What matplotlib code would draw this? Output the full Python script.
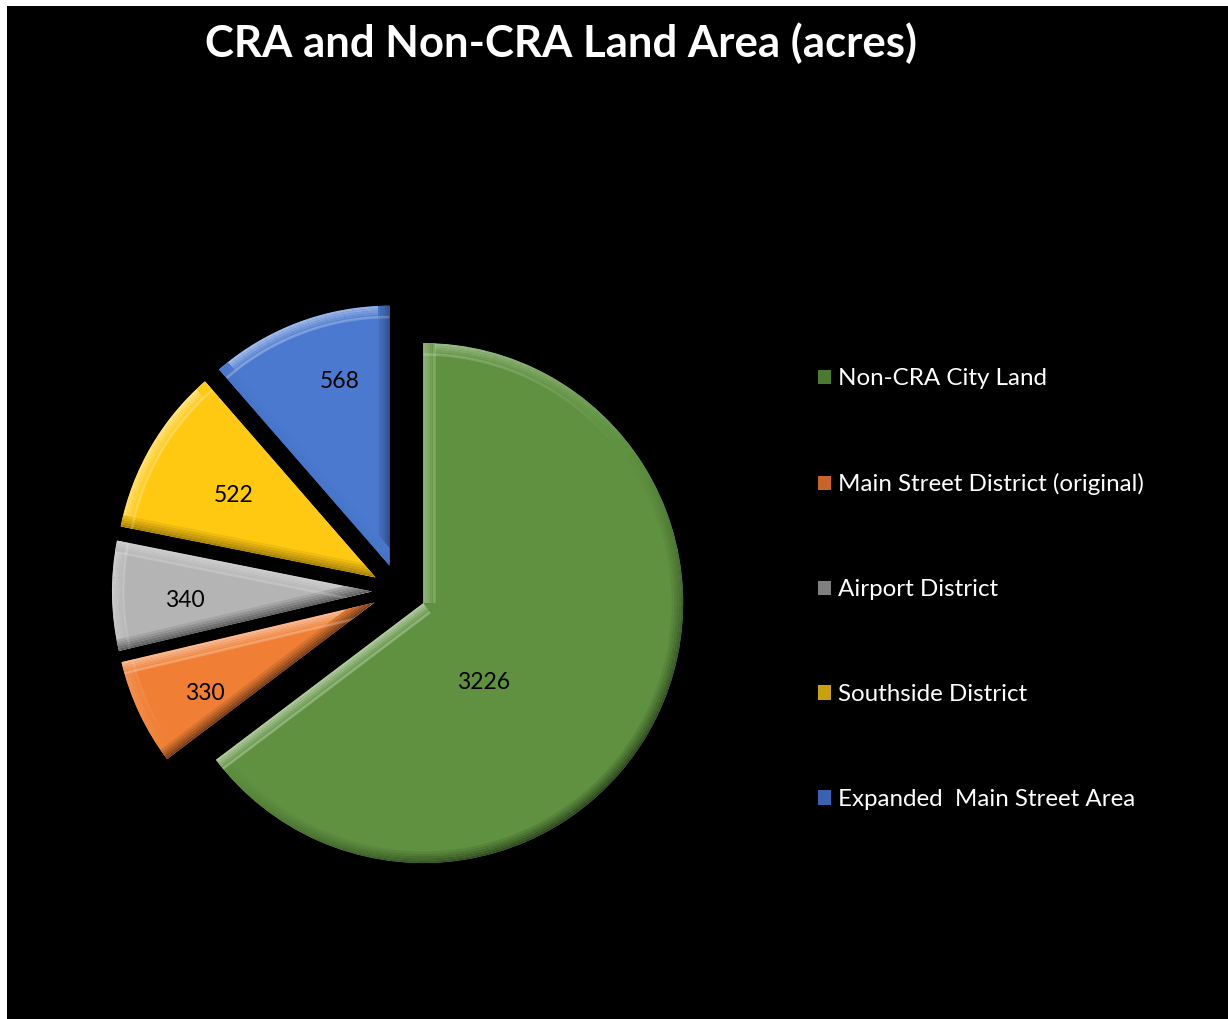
import numpy as np
import matplotlib
matplotlib.use("Agg")
import matplotlib.pyplot as plt
from matplotlib.patches import Rectangle, Wedge, Polygon
from matplotlib.colors import to_rgb

# Land area by district (acres)
categories = ["Non-CRA City Land", "Main Street District (original)", "Airport District",
              "Southside District", "Expanded  Main Street Area"]
acres = [3226, 330, 340, 522, 568]
title = "CRA and Non-CRA Land Area (acres)"

colors = ["#5f9140", "#f07f35", "#b4b4b4", "#ffc811", "#4a79cf"]
legend_colors = ["#4a7a30", "#c8642a", "#7f7f7f", "#c9a010", "#3a62b0"]
explode = [0.104] * 5
# label placement per slice: (fraction of radius, angular shift in degrees)
label_place = [(0.385, -26.5), (0.74, 3.2), (0.72, 1.8), (0.63, 0.0), (0.735, -5.5)]

W, H = 1228, 1019
fig = plt.figure(figsize=(W / 100, H / 100), dpi=100, facecolor="white")
fig.patches.append(Rectangle((7 / W, 0), 1 - 7 / W, 1 - 6 / H, transform=fig.transFigure,
                             facecolor="black", edgecolor="none", zorder=-10))

R_px = 260.0
cx, cy = 399.0, 591.0
lim = 1.3
size = 2 * lim * R_px
ax = fig.add_axes([(cx - size / 2) / W, (H - cy - size / 2) / H, size / W, size / H])
ax.set_zorder(2)

wedges, _ = ax.pie(acres, colors=colors, startangle=90, counterclock=False,
                   explode=explode, radius=1.0, wedgeprops=dict(linewidth=0))
ax.set_xlim(-lim, lim)
ax.set_ylim(-lim, lim)
ax.set_aspect("equal")
ax.axis("off")

light = np.array([-0.6, 0.8])
light = light / np.linalg.norm(light)


def shade(base, normal, strength):
    c = np.array(to_rgb(base))
    k = float(np.dot(normal, light))
    if k >= 0:
        c = c + (1 - c) * k * strength
    else:
        c = c * (1 + k * strength)
    return tuple(np.clip(c, 0, 1))


bw = 0.044  # bevel width in radius units
layers = 5
for w, base in zip(wedges, colors):
    x0, y0 = w.center
    r = w.r
    t1, t2 = w.theta1, w.theta2
    n = max(int((t2 - t1) / 2), 4)
    edges = np.linspace(t1, t2, n + 1)
    # bevel along the outer arc, fading toward the face
    for j in range(layers):
        s = 0.5 * (1 - j / layers)
        width = bw / layers
        rr = r - j * width
        for a, b in zip(edges[:-1], edges[1:]):
            m = np.deg2rad((a + b) / 2)
            seg = Wedge((x0, y0), rr, a, b, width=width * 1.05,
                        facecolor=shade(base, np.array([np.cos(m), np.sin(m)]), s),
                        edgecolor="none", zorder=3)
            ax.add_patch(seg)
            seg.set_clip_path(w)
    # soft highlight at the inner edge of the arc bevel
    for a, b in zip(edges[:-1], edges[1:]):
        m = np.deg2rad((a + b) / 2)
        k = float(np.dot([np.cos(m), np.sin(m)], light))
        if k > 0.1:
            hl = Wedge((x0, y0), r - bw + 0.005, a, b, width=0.01,
                       facecolor=(1, 1, 1, 0.25 * k), edgecolor="none", zorder=4)
            ax.add_patch(hl)
            hl.set_clip_path(w)
    # bevels along the two straight edges
    for ang, side in ((t1, 1), (t2, -1)):
        ar = np.deg2rad(ang)
        d = np.array([np.cos(ar), np.sin(ar)])
        n_in = side * np.array([-np.sin(ar), np.cos(ar)])
        p0 = np.array([x0, y0])
        p1 = p0 + d * r
        for j in range(layers):
            s = 0.5 * (1 - j / layers)
            o1 = j * bw / layers
            o2 = (j + 1.05) * bw / layers
            quad = [p0 + n_in * o1, p1 + n_in * o1, p1 + n_in * o2, p0 + n_in * o2]
            strip = Polygon(quad, closed=True, facecolor=shade(base, -n_in, s),
                            edgecolor="none", zorder=3)
            ax.add_patch(strip)
            strip.set_clip_path(w)
        k = float(np.dot(-n_in, light))
        if k > 0.1:
            hq = [p0 + n_in * (bw - 0.005), p1 + n_in * (bw - 0.005), p1 + n_in * (bw + 0.005),
                  p0 + n_in * (bw + 0.005)]
            hp = Polygon(hq, closed=True, facecolor=(1, 1, 1, 0.25 * k), edgecolor="none", zorder=4)
            ax.add_patch(hp)
            hp.set_clip_path(w)

# data labels
for w, v, (frac, shift) in zip(wedges, acres, label_place):
    x0, y0 = w.center
    mid = np.deg2rad((w.theta1 + w.theta2) / 2 + shift)
    ax.text(x0 + frac * w.r * np.cos(mid), y0 + frac * w.r * np.sin(mid), str(v),
            ha="center", va="center", fontsize=16.5, family="Lato", color="black", zorder=6)

fig.text(561 / W, 1 - 43 / H, title, ha="center", va="center", fontsize=31.5,
         family="Lato", fontweight="bold", color="white")

# legend
handles = [Rectangle((0, 0), 1, 1, facecolor=c, edgecolor="none") for c in legend_colors]
leg = fig.legend(handles, categories, loc="upper left", bbox_to_anchor=(818 / W, 1 - 368.5 / H),
                 frameon=False, labelcolor="white", prop=dict(family="Lato", size=17.4),
                 handlelength=0.54, handleheight=0.54, handletextpad=0.28, labelspacing=3.47,
                 borderpad=0, borderaxespad=0)

fig.savefig("out.png", dpi=100, facecolor=fig.get_facecolor())
